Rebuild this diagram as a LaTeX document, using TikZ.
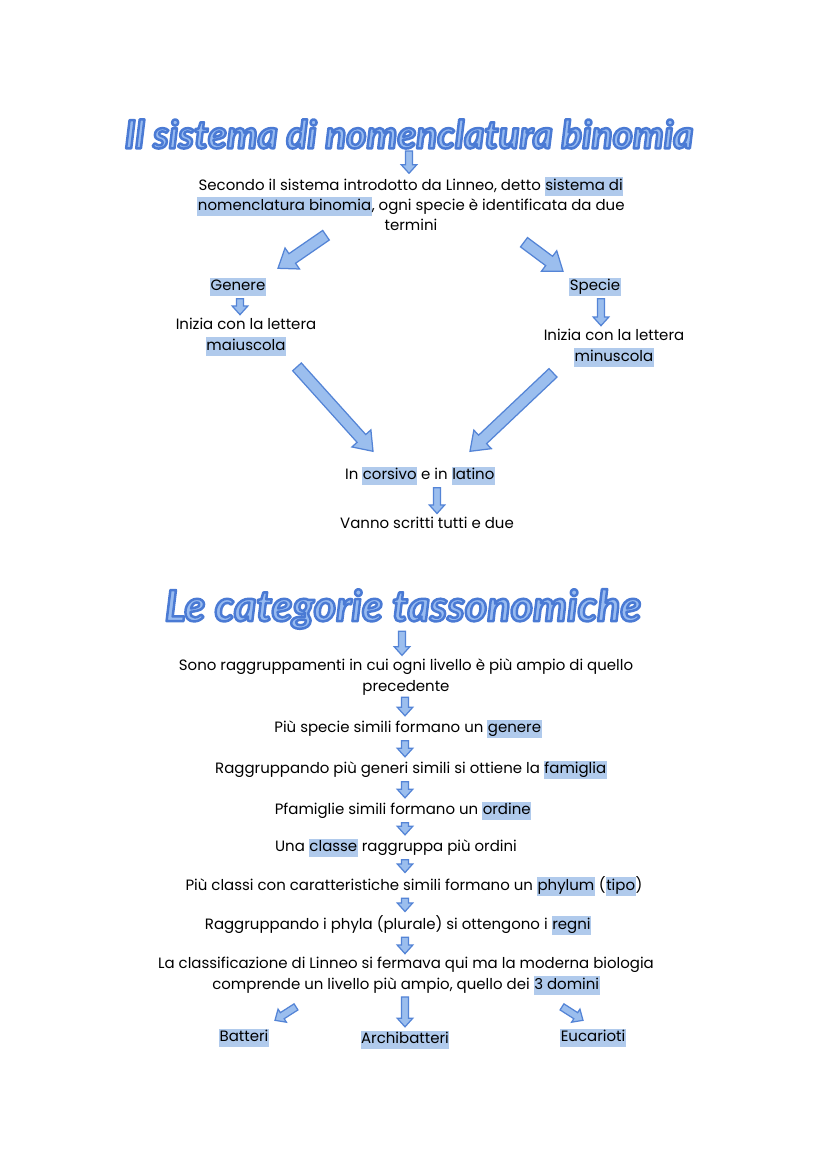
\documentclass[tikz,border=0pt]{standalone}
\usepackage{fontspec}
\setmainfont{Poppins}
\newfontfamily\titlefont{Lato}
\usepackage{xcolor}
\usetikzlibrary{calc}

\definecolor{hlblue}{RGB}{176,202,236}
\definecolor{arrowfill}{RGB}{155,190,238}
\definecolor{arrowline}{RGB}{84,132,214}
\definecolor{titlefill}{RGB}{152,187,240}

\newcommand{\hilite}[1]{{\setlength{\fboxsep}{0.4pt}\colorbox{hlblue}{\rule[-3.6pt]{0pt}{12.8pt}#1}}}
% text filled light blue and stroked dark blue
\newcommand{\outlined}[1]{\textcolor{titlefill}{\special{pdf:code 2 Tr 1.8 w 1 j 0.29 0.478 0.831 RG}#1\special{pdf:code 0 Tr}}}

\begin{document}
\begin{tikzpicture}[x=0.2536mm,y=-0.2536mm]
    \tikzstyle{txt} = [
      align=center,
      inner sep=0pt,
      font=\fontsize{10.8}{14.6}\selectfont,
    ]
    \tikzstyle{title} = [
      inner sep=0pt,
      font=\titlefont\bfseries\itshape\fontsize{28}{32}\selectfont,
    ]
    \tikzstyle{fat} = [
      fill=arrowfill,
      draw=arrowline,
      line width=0.9pt,
    ]

    \newcommand{\fatarrow}[5]{
      \coordinate (hb) at ($(#5)!#3!(#4)$);
      \draw[fat] ($(#4)!#1!90:(#5)$) -- ($(hb)!#1!90:(#5)$) -- ($(hb)!#2!90:(#5)$) -- (#5)
        -- ($(hb)!#2!-90:(#5)$) -- ($(hb)!#1!-90:(#5)$) -- ($(#4)!#1!-90:(#5)$) -- cycle;
    }
    \newcommand{\smallarrow}[2]{\fatarrow{2.6pt}{5.6pt}{6.2pt}{#1}{#2}}
    \newcommand{\bigarrow}[2]{\fatarrow{4.2pt}{9.2pt}{12.5pt}{#1}{#2}}
    % vertical arrow in column #1 from node #2 down to node #3
    \newcommand{\downstep}[3]{
      \coordinate (from) at ([yshift=-1.5pt] #2.south -| #1);
      \coordinate (to) at ([yshift=2.5pt] #3.north -| #1);
      \smallarrow{from}{to}
    }

    \fill[white] (0,0) rectangle (828,1169);
    \useasboundingbox (0,0) rectangle (828,1169);

    \coordinate (colA) at (409,0);
    \coordinate (colG) at (240,0);
    \coordinate (colS) at (601,0);
    \coordinate (colC) at (437,0);
    \coordinate (colT) at (402,0);
    \coordinate (colM) at (405,0);

    % first part
    \node[title] (title1) at (409,134) {\outlined{Il sistema di nomenclatura binomia}};
    \node[txt] (intro) at (411,204) {Secondo il sistema introdotto da Linneo, detto \hilite{sistema di}\\
      \hilite{nomenclatura binomia}, ogni specie è identificata da due\\ termini};
    \node[txt] (genere) at (238,287) {\hilite{Genere}};
    \node[txt] (specie) at (595,287) {\hilite{Specie}};
    \node[txt] (maiusc) at (246,337) {Inizia con la lettera\\ \hilite{maiuscola}};
    \node[txt] (minusc) at (614,348) {Inizia con la lettera\\ \hilite{minuscola}};
    \node[txt] (corsivo) at (420,476) {In \hilite{corsivo} e in \hilite{latino}};
    \node[txt] (vanno) at (427,523) {Vanno scritti tutti e due};

    \downstep{colA}{title1}{intro}
    \bigarrow{$(intro.south)+(-85,4)$}{$(genere.north)+(40,-9)$}
    \bigarrow{$(intro.south)+(113,11)$}{$(specie.north)+(-32,-6)$}
    \downstep{colG}{genere}{maiusc}
    \downstep{colS}{specie}{minusc}
    \bigarrow{$(maiusc.south)+(51,11)$}{$(corsivo.north)+(-47,-15)$}
    \bigarrow{$(minusc.south)+(-61,6)$}{$(corsivo.north)+(50,-15)$}
    \downstep{colC}{corsivo}{vanno}

    % second part
    \node[title,font=\titlefont\bfseries\itshape\fontsize{31}{35}\selectfont] (title2) at (403,609) {\outlined{Le categorie tassonomiche}};
    \node[txt] (sono) at (406,677) {Sono raggruppamenti in cui ogni livello è più ampio di quello\\ precedente};
    \node[txt] (piu) at (408,729) {Più specie simili formano un \hilite{genere}};
    \node[txt] (ragg) at (411,770) {Raggruppando più generi simili si ottiene la \hilite{famiglia}};
    \node[txt] (pfam) at (403,811) {Pfamiglie simili formano un \hilite{ordine}};
    \node[txt] (una) at (396,848) {Una \hilite{classe} raggruppa più ordini};
    \node[txt] (classi) at (414,886) {Più classi con caratteristiche simili formano un \hilite{phylum} (\hilite{tipo})};
    \node[txt] (phyla) at (398,925) {Raggruppando i phyla (plurale) si ottengono i \hilite{regni}};
    \node[txt] (linneo) at (406,976) {La classificazione di Linneo si fermava qui ma la moderna biologia\\
      comprende un livello più ampio, quello dei \hilite{3 domini}};
    \node[txt] (batteri) at (244,1038) {\hilite{Batteri}};
    \node[txt] (archi) at (405,1040) {\hilite{Archibatteri}};
    \node[txt] (euca) at (593,1038) {\hilite{Eucarioti}};

    \downstep{colT}{title2}{sono}
    \downstep{colM}{sono}{piu}
    \downstep{colM}{piu}{ragg}
    \downstep{colM}{ragg}{pfam}
    \downstep{colM}{pfam}{una}
    \downstep{colM}{una}{classi}
    \downstep{colM}{classi}{phyla}
    \downstep{colM}{phyla}{linneo}
    \smallarrow{$(linneo.south)+(-110,12)$}{$(batteri.north)+(31,-8)$}
    \downstep{colM}{linneo}{archi}
    \smallarrow{$(linneo.south)+(156,12)$}{$(euca.north)+(-10,-8)$}
\end{tikzpicture}
\end{document}
